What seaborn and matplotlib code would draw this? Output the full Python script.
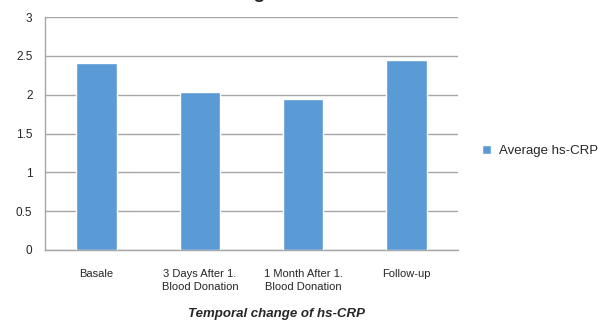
import matplotlib
matplotlib.use("Agg")
import matplotlib.pyplot as plt
import seaborn as sns
import pandas as pd
from matplotlib.patches import Patch

categories = ["Basale", "3 Days After 1.\nBlood Donation",
              "1 Month After 1.\nBlood Donation", "Follow-up"]
avg_hscrp = [2.41, 2.03, 1.95, 2.44]
series_name = "Average hs-CRP"
y_ticks = [0, 0.5, 1, 1.5, 2, 2.5, 3]
y_tick_labels = ["0", "0.5", "1", "1.5", "2", "2.5", "3"]

bar_color = "#5B9BD5"
grid_color = "#A6A6A6"

sns.set_style("white")
plt.rcParams["font.family"] = ["Liberation Sans", "DejaVu Sans"]

df = pd.DataFrame({"stage": categories, "value": avg_hscrp})

fig = plt.figure(figsize=(6.01, 3.21), dpi=100)
ax = fig.add_axes([45 / 601, 1 - 250 / 321, (458 - 45) / 601, (250 - 17) / 321])

sns.barplot(data=df, x="stage", y="value", color=bar_color, width=0.39,
            saturation=1, ax=ax, zorder=3)

ax.set_ylim(0, 3)
ax.set_xlim(-0.5, 3.5)
ax.set_yticks(y_ticks)
ax.set_yticklabels(y_tick_labels, fontsize=8.5)
ax.tick_params(axis="y", length=4, color=grid_color, pad=5)
ax.yaxis.grid(True, color=grid_color, linewidth=1)
ax.set_axisbelow(True)

# category labels centered, tick marks at category boundaries
ax.set_xticks(range(len(categories)))
ax.set_xticklabels(categories, fontsize=8, linespacing=1.35)
ax.tick_params(axis="x", length=0, pad=14)
ax.set_xticks([-0.5, 0.5, 1.5, 2.5, 3.5], minor=True)
ax.tick_params(axis="x", which="minor", length=5, color=grid_color)

ax.set_xlabel("")
ax.set_ylabel("")
for side in ["top", "right"]:
    ax.spines[side].set_visible(False)
for side in ["left", "bottom"]:
    ax.spines[side].set_color(grid_color)
    ax.spines[side].set_linewidth(1)

fig.legend(handles=[Patch(facecolor=bar_color, label=series_name)],
           loc="center left", bbox_to_anchor=(470 / 601, 1 - 151 / 321),
           frameon=False, fontsize=9.5, handlelength=0.7, handleheight=0.7,
           handletextpad=0.6)

# chart title, mostly cropped off at the top edge of the image
fig.text(200 / 601, 1 + 1.5 / 321, "Average hs-CRP", fontsize=14,
         fontweight="bold", ha="left", va="baseline")

fig.text(276 / 601, 1 - 314 / 321, "Temporal change of hs-CRP", fontsize=9.5,
         fontweight="bold", fontstyle="italic", ha="center", va="center")

fig.savefig("out.png", dpi=100)
